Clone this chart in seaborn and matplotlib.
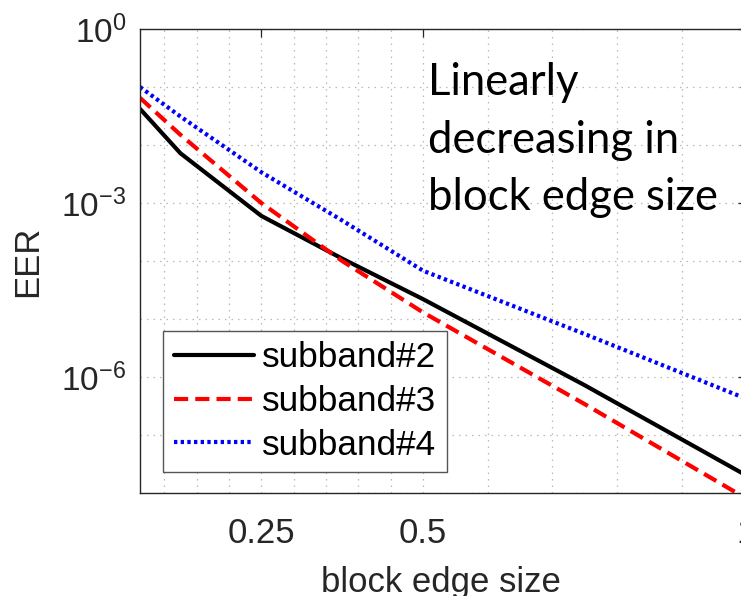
import matplotlib
matplotlib.use("Agg")
import matplotlib.pyplot as plt
import matplotlib.ticker as mticker
import numpy as np
import pandas as pd
import seaborn as sns

# block edge size (x) and EER values
edge = [0.0625, 0.125, 0.25, 0.375, 0.5, 0.75, 1.0]
eer_sub2 = [4.2e-2, 7.2e-3, 6.0e-4, 1.1e-4, 2.2e-5, 7.2e-7, 2.0e-8]
eer_sub3 = [6.5e-2, 1.5e-2, 1.0e-3, 1.0e-4, 1.3e-5, 3.4e-7, 8.0e-9]
eer_sub4 = [1.0e-1, 3.1e-2, 3.4e-3, 5.0e-4, 6.8e-5, 5.5e-6, 4.2e-7]
labels = ["subband#2", "subband#3", "subband#4"]

x_ticks = [0.25, 0.5, 1.0]
x_ticklabels = ["0.25", "0.5", "1"]
x_minor = [0.1, 0.15, 0.2, 0.3, 0.35, 0.4, 0.45, 0.6, 0.7, 0.8, 0.9]
y_ticks = [1e0, 1e-3, 1e-6]
y_ticklabels = [r"$\mathregular{10^{0}}$", r"$\mathregular{10^{-3}}$", r"$\mathregular{10^{-6}}$"]
y_minor = [1e-1, 1e-2, 1e-4, 1e-5, 1e-7, 1e-8]

note_lines = ["Linearly", "decreasing in", "block edge size"]

sns.set_theme(style="white")
plt.rcParams["font.family"] = ["Liberation Sans", "DejaVu Sans"]
plt.rcParams["mathtext.fontset"] = "custom"
plt.rcParams["mathtext.rm"] = "Liberation Sans"
plt.rcParams["mathtext.default"] = "regular"

df = pd.DataFrame({
    "edge": edge * 3,
    "eer": eer_sub2 + eer_sub3 + eer_sub4,
    "series": np.repeat(labels, len(edge)),
})

styles = {
    "subband#2": dict(color="#000000", lw=3.0),
    "subband#3": dict(color="#ff0000", lw=3.0, dashes=(3.4, 1.7)),
    "subband#4": dict(color="#0000ff", lw=3.0, dashes=(0.8, 0.8)),
}

fig = plt.figure(figsize=(7.41, 5.96), dpi=100)
ax = fig.add_axes([140 / 741, 103 / 596, 606.5 / 741, 464 / 596])

for name in labels:
    sns.lineplot(data=df[df["series"] == name], x="edge", y="eer", ax=ax,
                 label=name, estimator=None, sort=False, **styles[name])

ax.set_yscale("log")
ax.set_xlim(0.0625, 1.0)
ax.set_ylim(1e-8, 1e0)

ax.xaxis.set_major_locator(mticker.FixedLocator(x_ticks))
ax.xaxis.set_major_formatter(mticker.FixedFormatter(x_ticklabels))
ax.xaxis.set_minor_locator(mticker.FixedLocator(x_minor))
ax.yaxis.set_major_locator(mticker.FixedLocator(y_ticks))
ax.yaxis.set_major_formatter(mticker.FixedFormatter(y_ticklabels))
ax.yaxis.set_minor_locator(mticker.FixedLocator(y_minor))
ax.yaxis.set_minor_formatter(mticker.NullFormatter())

ax.tick_params(axis="both", which="both", direction="in", top=True, right=True,
               color="#262626", width=0.9)
ax.tick_params(axis="both", which="major", length=6)
ax.tick_params(axis="both", which="minor", length=4)
ax.tick_params(axis="x", which="minor", length=0)
ax.tick_params(axis="x", which="major", labelsize=25, pad=17, labelcolor="#262626")
ax.tick_params(axis="y", which="major", labelsize=24, pad=10, labelcolor="#262626")

ax.grid(True, which="both", color="#b8b8b8", linewidth=0.9, linestyle=(0, (1.2, 4)))
for sp in ax.spines.values():
    sp.set_color("#262626")
    sp.set_linewidth(1.0)

ax.set_xlabel("block edge size", fontsize=25, color="#262626")
ax.set_ylabel("EER", fontsize=25, color="#262626")
ax.xaxis.set_label_coords(0.497, -0.157)
ax.yaxis.set_label_coords(-0.158, 0.5)

leg = ax.legend(loc="lower left", bbox_to_anchor=(0.038, 0.045), borderaxespad=0,
                fontsize=25.3, frameon=True, fancybox=False, framealpha=1,
                edgecolor="#555555", handlelength=2.3, handletextpad=0.22,
                labelspacing=0.3, borderpad=0.3)
leg.get_frame().set_linewidth(1.0)
for t in leg.get_texts():
    t.set_color("#000000")

for txt, base in zip(note_lines, [95, 153, 210]):
    fig.text(428 / 741, 1 - base / 596, txt, fontfamily="Lato", fontsize=31.4,
             va="baseline", ha="left", color="black")

fig.savefig("out.png", dpi=100)
